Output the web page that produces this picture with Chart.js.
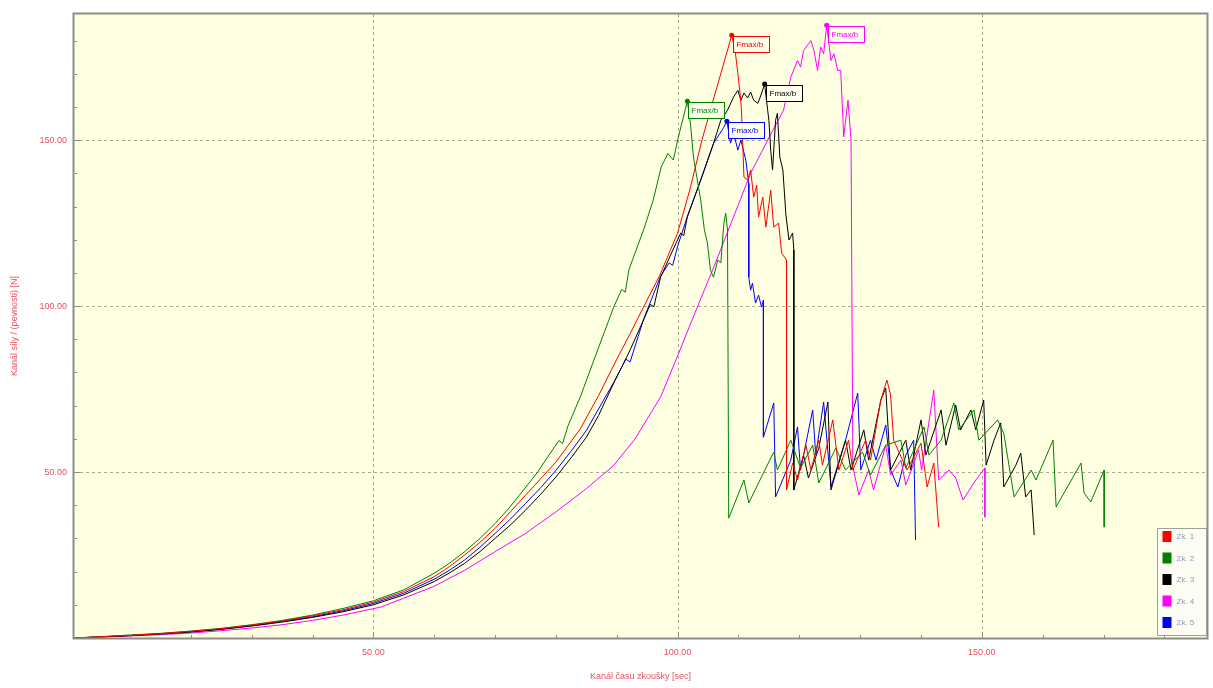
<!DOCTYPE html>
<html>
<head>
<meta charset="utf-8">
<script src="https://cdn.jsdelivr.net/npm/chart.js@4.4.1/dist/chart.umd.min.js"></script>
<style>
  html, body { margin: 0; padding: 0; background: #ffffff; }
  #wrap { width: 1213px; height: 688px; position: relative; }
</style>
</head>
<body>
<div id="wrap"><canvas id="c" width="1213" height="688"></canvas></div>
<script>
// Test names and line colours
const seriesNames = ['Zk. 1', 'Zk. 2', 'Zk. 3', 'Zk. 4', 'Zk. 5'];
const seriesColors = ['#ff0000', '#008000', '#000000', '#ff00ff', '#0000ff'];

// Each test: [time s, force N]
const zk1 = [[0.8,0],[5,0.35],[10,0.8],[15,1.3],[20,2.0],[25,2.8],[30,3.9],[35,5.1],[40,6.7],[45,8.5],[50,10.8],[55,14.0],[60,18.5],[62.5,21.5],[65,25.0],[67.5,28.8],[70,33.0],[72.5,38],[75,43.0],[77.5,48],[80,53.0],[82,58],[84,63.0],[87,73.0],[90,84.0],[92,91],[94.4,99.7],[97,109],[100,122],[102,135],[104,150],[106,163],[108.9,181.6],
  [109.5,176.2],[109.9,170.2],[110.2,165.1],[110.5,159],[110.7,149.1],[110.9,138.9],[111.5,138],[112.0,141],[112.5,132.8],[113.0,136.4],[113.3,126.8],[114.0,132.8],[114.5,123.8],[115.3,134.9],[115.8,123.8],[116.6,125],[117.1,115.9],[117.9,113.9],
  [117.9,44.6],[118.9,52.7],[119.7,47.6],[121.1,58.1],[121.9,50.6],[123.2,59.6],[123.8,52.1],[125.5,65.7],[126.5,50.6],[128.1,59.6],[128.8,50.6],[130.9,59.6],[131.7,53.6],[133.4,71.7],[134.4,77.7],[135.0,73.2],[135.5,59.6],[137.7,50.6],[140.0,58.7],[141.0,45.5],[142.1,52.7],[142.9,33.4]];

const zk2 = [[0.8,0],[5,0.4],[10,0.9],[15,1.4],[20,2.1],[25,2.9],[30,4.0],[35,5.3],[40,6.9],[45,8.9],[50,11.2],[55,14.5],[60,19.5],[62.5,22.5],[65,26.0],[67.5,30],[70,34.5],[72,38.5],[74,43.0],[77,50.0],[79,55.5],[80.5,59.5],[81.1,58.6],[82,64],[84,72.6],[86.5,85],[89.5,99.7],[90.8,105],[91.4,104.2],[92,111],[94.4,122.9],[96,132],[97.3,141.9],[98.4,146],[99.3,144],[100,150],[101.6,161.7],
  [102.1,155.1],[102.6,144.9],[103.8,131.9],[104.4,122.9],[104.9,119],[105.4,110.8],[105.9,108.7],[106.6,113.9],[107.1,113],[107.6,125],[107.9,128],[108.2,122.9],
  [108.4,36.1],[110.9,47.6],[111.7,40.7],[113.7,48.2],[115.8,56],[116.4,50.6],[118.6,59.6],[120.2,51.2],[122.2,58.1],[123.2,46.7],[126.0,57.2],[127.6,50.6],[130.4,56],[131.7,49.1],[134.2,58.1],[136.7,59.6],[137.5,51.2],[140.5,63.6],[141.3,55.1],[143.3,59.6],[145.4,70.8],[146.2,62.7],[148.7,68.7],[149.5,59.6],[152.6,65.7],[153.6,61.7],[155.3,42.5],[158.1,50.6],[158.9,47.6],[161.7,59.6],[162.2,39.5],[166.3,52.7],[166.8,43.7],[167.9,41],[170.1,50.6],[170.1,33.4]];

const zk3 = [[0.8,0],[5,0.3],[10,0.7],[15,1.2],[20,1.8],[25,2.6],[30,3.6],[35,4.8],[40,6.2],[45,7.9],[50,10.0],[55,13.0],[60,17.0],[62.5,19.6],[65,22.5],[67.5,26],[70,30.0],[72.5,34],[75,38.5],[77.5,43.3],[80,48.5],[82.5,54.3],[85,60.5],[87,67],[89.5,76.8],[92,86],[94.4,95.8],[95.5,100.5],[96.1,99.8],[97.2,108.7],[99,116],[100.5,122],[101,121.2],[101.6,126.9],[103.8,138],[105.9,149],[107.1,156],[108.2,159],[109.2,163],[109.9,165],[110.4,162],[110.9,164.2],[111.5,162.7],[112.0,164.5],[112.5,162],[113.2,161.1],[113.7,163.6],[114.3,166.9],
  [114.8,159],[115.0,156],[115.3,147],[115.6,141],[116.1,156],[116.4,158.1],[116.8,144.9],[117.3,141],[117.8,127.4],[118.3,119.9],[118.9,122],[119.1,116.9],
  [119.1,44.6],[120.7,55.1],[121.5,48.2],[123.2,57.2],[124.7,71.1],[125.2,44.6],[127.6,59.6],[128.5,50.6],[130.6,62.7],[131.4,53.6],[133.4,71.7],[134.2,75.3],[135.0,50.6],[137.5,59.6],[138.3,50.6],[140.0,65.7],[140.8,55.1],[143.3,68.7],[144.1,58.1],[145.7,70.2],[146.5,62.7],[148.2,68.7],[149.0,62.7],[150.3,71.7],[150.7,52.1],[152.0,59.6],[153.1,64.8],[153.6,45.5],[155.6,52.1],[156.4,55.7],[157.2,42.5],[158.1,44.6],[158.6,31]];

const zk4 = [[0.8,0],[5,0.3],[10,0.6],[15,1.0],[20,1.5],[25,2.2],[30,3.0],[35,4.0],[40,5.3],[45,6.9],[51.2,9.3],[55,12.0],[60,15.6],[65,20.4],[70,26],[75,31.5],[80,38],[85,45],[89.5,52],[93,60],[97.2,72.6],[100,85],[103.3,100],[106,112],[109,126],[112,140],[114.8,150],[117.4,159],[118.6,169],[119.7,174],[120.2,172],[120.7,177],[121.9,180],[122.4,177],[123.0,171],[123.5,178],[124.0,176],[124.5,184.6],
  [124.8,180],[125.2,174],[125.7,176],[126.3,171],[126.8,171],[127.3,151],[128.0,162],[128.5,150],
  [128.8,51.5],[129.8,43.1],[131.4,50.6],[132.2,44.6],[134.2,58.1],[135.0,49.1],[136.7,53.6],[137.5,46.1],[139.6,56.6],[140.1,50.6],[142.1,74.7],[142.9,47.6],[144.6,50.6],[145.7,48.2],[146.9,41.6],[149.0,47.6],[150.5,51.2],[150.5,36.4]];

const zk5 = [[0.8,0],[5,0.32],[10,0.75],[15,1.25],[20,1.9],[25,2.7],[30,3.7],[35,5.0],[40,6.4],[45,8.2],[50,10.4],[55,13.5],[60,17.7],[62.5,20.4],[65,23.5],[67.5,27.3],[70,31.5],[72.5,35.8],[75,40.5],[77.5,45.3],[80,50.5],[82.5,56.3],[85,62.5],[87,69],[89.5,77],[91.5,84],[92.2,83.2],[94.4,96],[97.2,109],[98.6,113],[99.2,112.3],[100,118],[101.6,127],[103.8,138],[105.9,149],[107.6,153.9],[108.1,155.7],
  [108.7,149.1],[109.2,152.1],[109.9,147],[110.4,150],[111.2,144],[111.7,137],[111.7,108.7],[112.0,104.8],[112.3,106.9],[112.8,100.9],[113.3,103.3],[113.8,99.7],[114.1,101.8],
  [114.1,60.5],[115.8,70.8],[116.1,42.5],[118.6,53.6],[119.7,63.6],[120.2,50.6],[122.2,68.7],[122.7,55.1],[124.0,71.1],[125.2,45.5],[127.6,59.6],[129.6,73.8],[130.1,50.6],[131.7,59.6],[132.6,53.6],[134.2,64.2],[135.0,50.6],[136.2,45.5],[137.5,55.1],[138.8,59.6],[139.1,29.5]];

const allSeries = [zk1, zk2, zk3, zk4, zk5];

// Labelled ticks on both axes
const xTickValues = [50, 100, 150];
const yTickValues = [50, 100, 150];
const peakLabel = 'Fmax/b';
const xTitle = 'Kanál času zkoušky [sec]';
const yTitle = 'Kanál síly / (pevnosti) [N]';

const LABEL_RED = '#e8505e';
const FONT = 'Liberation Sans';

// Cream plot background, dotted grid, frame, inner tick marks, peak markers and legend
const plotDecor = {
  id: 'plotDecor',
  beforeDraw(chart) {
    const { ctx, chartArea: a, scales: { x, y } } = chart;
    ctx.save();
    ctx.fillStyle = '#ffffe2';
    ctx.fillRect(a.left, a.top, a.right - a.left, a.bottom - a.top);
    ctx.strokeStyle = '#a9a98f';
    ctx.lineWidth = 1;
    ctx.setLineDash([3, 3]);
    xTickValues.forEach(v => {
      const px = Math.round(x.getPixelForValue(v)) + 0.5;
      ctx.beginPath(); ctx.moveTo(px, a.top); ctx.lineTo(px, a.bottom); ctx.stroke();
    });
    yTickValues.forEach(v => {
      const py = Math.round(y.getPixelForValue(v)) + 0.5;
      ctx.beginPath(); ctx.moveTo(a.left, py); ctx.lineTo(a.right, py); ctx.stroke();
    });
    ctx.restore();
  },
  afterDatasetsDraw(chart) {
    const { ctx, chartArea: a, scales: { x, y } } = chart;
    ctx.save();
    // frame
    ctx.strokeStyle = '#8e8e86';
    ctx.lineWidth = 2;
    ctx.strokeRect(a.left - 0.5, a.top - 0.5, a.right - a.left + 1, a.bottom - a.top + 1);
    // inner tick marks every 10 units
    ctx.lineWidth = 1;
    ctx.strokeStyle = '#8e8e86';
    for (let v = 10; v < x.max; v += 10) {
      const px = Math.round(x.getPixelForValue(v)) + 0.5;
      const len = v % 50 === 0 ? 6 : 3;
      ctx.beginPath(); ctx.moveTo(px, a.bottom); ctx.lineTo(px, a.bottom - len); ctx.stroke();
    }
    for (let v = 10; v < y.max; v += 10) {
      const py = Math.round(y.getPixelForValue(v)) + 0.5;
      const len = v % 50 === 0 ? 6 : 3;
      ctx.beginPath(); ctx.moveTo(a.left, py); ctx.lineTo(a.left + len, py); ctx.stroke();
    }
    // peak (Fmax) marker and tag for each test
    ctx.font = '8px "' + FONT + '"';
    ctx.textBaseline = 'middle';
    allSeries.forEach((s, i) => {
      let best = s[0];
      s.forEach(p => { if (p[1] > best[1]) best = p; });
      const px = x.getPixelForValue(best[0]);
      const py = y.getPixelForValue(best[1]);
      const col = seriesColors[i];
      ctx.fillStyle = col;
      ctx.beginPath(); ctx.arc(px, py, 2.5, 0, Math.PI * 2); ctx.fill();
      const bx = Math.round(px) + 1.5, by = Math.round(py) + 1.5, bw = 36, bh = 16;
      ctx.fillStyle = 'rgba(255,255,236,0.9)';
      ctx.fillRect(bx, by, bw, bh);
      ctx.strokeStyle = col;
      ctx.lineWidth = 1;
      ctx.strokeRect(bx, by, bw, bh);
      ctx.fillStyle = col;
      ctx.textAlign = 'left';
      ctx.fillText(peakLabel, bx + 3, by + bh / 2 + 0.5);
    });
    // legend box
    const lx = 1157.5, ly = 528.5, lw = 49, lh = 107;
    ctx.fillStyle = '#fdfdf4';
    ctx.fillRect(lx, ly, lw, lh);
    ctx.strokeStyle = '#a0a098';
    ctx.strokeRect(lx, ly, lw, lh);
    ctx.font = '8px "' + FONT + '"';
    seriesNames.forEach((name, i) => {
      const cy = ly + 8 + i * 21.5;
      ctx.fillStyle = seriesColors[i];
      ctx.fillRect(lx + 5, cy - 5.5, 9, 11);
      ctx.fillStyle = '#8e9ab8';
      ctx.textAlign = 'left';
      ctx.fillText(name, lx + 19, cy + 0.5);
    });
    ctx.restore();
  }
};

const ctx = document.getElementById('c').getContext('2d');
new Chart(ctx, {
  type: 'scatter',
  data: {
    datasets: allSeries.map((s, i) => ({
      label: seriesNames[i],
      data: s.map(p => ({ x: p[0], y: p[1] })),
      showLine: true,
      borderColor: seriesColors[i],
      backgroundColor: seriesColors[i],
      borderWidth: 1,
      pointRadius: 0,
      tension: 0,
      fill: false
    }))
  },
  options: {
    responsive: false,
    animation: false,
    events: [],
    layout: { padding: { left: 0, top: 14, right: 6, bottom: 0 } },
    plugins: { legend: { display: false }, tooltip: { enabled: false } },
    scales: {
      x: {
        type: 'linear', min: 0.8, max: 187,
        afterFit(s) { s.height = 50; },
        afterBuildTicks(s) { s.ticks = xTickValues.map(v => ({ value: v })); },
        grid: { display: false, drawTicks: false },
        border: { display: false },
        ticks: { padding: 9, color: LABEL_RED, font: { family: FONT, size: 9 }, callback: v => Number(v).toFixed(2), maxRotation: 0 },
        title: { display: true, text: xTitle, color: LABEL_RED, font: { family: FONT, size: 9 }, padding: { top: 0, bottom: 6 } }
      },
      y: {
        type: 'linear', min: 0, max: 188,
        afterFit(s) { s.width = 74; },
        afterBuildTicks(s) { s.ticks = yTickValues.map(v => ({ value: v })); },
        grid: { display: false, drawTicks: false },
        border: { display: false },
        ticks: { padding: 7, color: LABEL_RED, font: { family: FONT, size: 9 }, callback: v => Number(v).toFixed(2) },
        title: { display: true, text: yTitle, color: LABEL_RED, font: { family: FONT, size: 9 }, padding: { top: 9, bottom: 0 } }
      }
    }
  },
  plugins: [plotDecor]
});
</script>
</body>
</html>
